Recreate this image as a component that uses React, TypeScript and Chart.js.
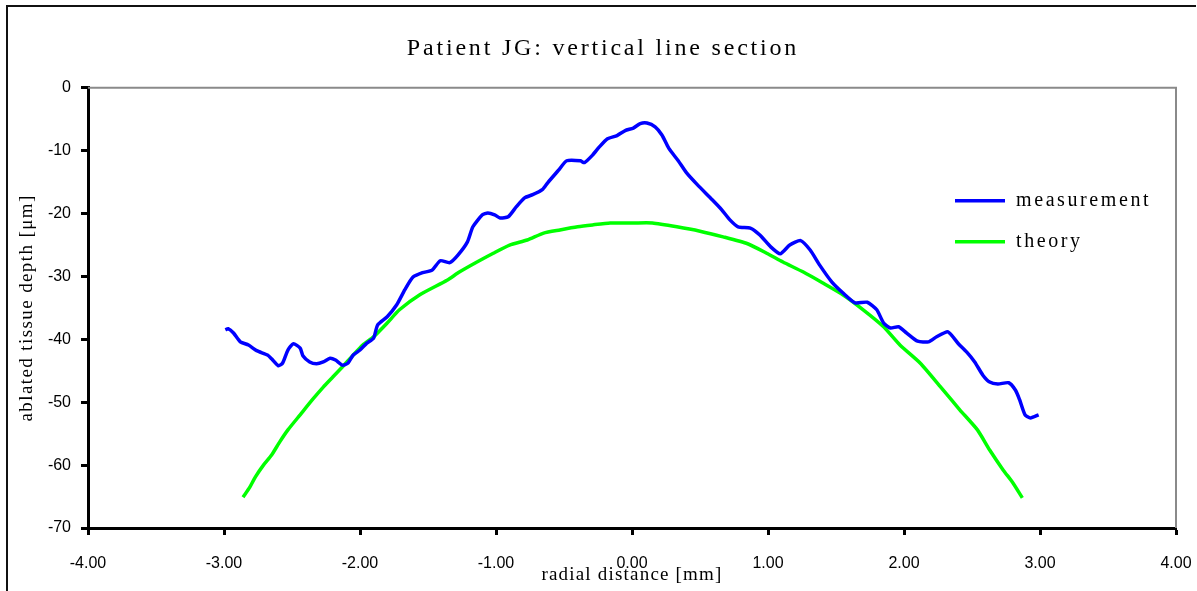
import React, { useEffect, useRef } from "react";
import { Chart, registerables } from "chart.js";

Chart.register(...registerables);

const chartTitle = "Patient JG: vertical line section";
const xAxisTitle = "radial distance [mm]";
const yAxisTitle = "ablated tissue depth [μm]";
const seriesNames = ["measurement", "theory"];

const measX = [
  -2.99, -2.97, -2.93, -2.88, -2.82, -2.76, -2.68, -2.65, -2.6, -2.57, -2.53, -2.49, -2.44, -2.42,
  -2.37, -2.32, -2.27, -2.22, -2.18, -2.13, -2.09, -2.05, -2.0, -1.95, -1.9, -1.87, -1.8, -1.73,
  -1.67, -1.61, -1.54, -1.47, -1.41, -1.34, -1.28, -1.21, -1.17, -1.1, -1.06, -1.01, -0.97, -0.91,
  -0.85, -0.79, -0.73, -0.66, -0.62, -0.54, -0.48, -0.38, -0.35, -0.29, -0.24, -0.18, -0.11, -0.05,
  0.01, 0.06, 0.11, 0.17, 0.22, 0.27, 0.34, 0.4, 0.48, 0.59, 0.66, 0.72, 0.78, 0.87, 0.94, 1.02,
  1.09, 1.16, 1.24, 1.31, 1.38, 1.47, 1.55, 1.64, 1.73, 1.8, 1.85, 1.9, 1.96, 2.02, 2.1, 2.18,
  2.24, 2.32, 2.36, 2.4, 2.46, 2.52, 2.58, 2.63, 2.69, 2.77, 2.82, 2.85, 2.89, 2.93, 2.99,
];
const measY = [
  -38.5, -38.3, -39.0, -40.4, -40.9, -41.8, -42.5, -43.1, -44.2, -43.8, -41.7, -40.7, -41.4, -42.6,
  -43.6, -43.9, -43.6, -43.0, -43.3, -44.1, -43.8, -42.5, -41.7, -40.6, -39.8, -37.7, -36.4, -34.5,
  -32.1, -30.1, -29.4, -29.0, -27.5, -27.8, -26.6, -24.5, -22.1, -20.2, -19.9, -20.2, -20.7, -20.5,
  -18.9, -17.5, -17.0, -16.2, -15.1, -13.1, -11.6, -11.6, -11.9, -10.7, -9.4, -8.1, -7.6, -6.8,
  -6.4, -5.7, -5.6, -6.2, -7.5, -9.6, -11.6, -13.5, -15.4, -17.8, -19.4, -21.0, -22.1, -22.3, -23.4, -25.3,
  -26.4, -25.0, -24.3, -25.8, -28.2, -30.9, -32.6, -34.2, -34.1, -35.3, -37.4, -38.2, -38.0, -39.0, -40.3, -40.4,
  -39.6, -38.8, -39.6, -40.7, -42.0, -43.6, -45.7, -46.8, -47.1, -46.9, -48.1, -49.6, -52.0, -52.5, -52.0,
];

const theoX = [
  -2.86, -2.81, -2.77, -2.71, -2.65, -2.59, -2.53, -2.44, -2.35, -2.27, -2.2, -2.13, -2.05, -1.98,
  -1.9, -1.8, -1.71, -1.56, -1.36, -1.27, -1.14, -1.02, -0.9, -0.77, -0.65, -0.53, -0.4, -0.29,
  -0.16, 0.01, 0.15, 0.33, 0.5, 0.67, 0.85, 0.99, 1.11, 1.26, 1.4, 1.55, 1.7, 1.85, 1.97, 2.12,
  2.27, 2.41, 2.54, 2.63, 2.73, 2.8, 2.87,
];
const theoY = [
  -65.1, -63.5, -61.9, -60.0, -58.4, -56.3, -54.4, -52.0, -49.6, -47.6, -46.0, -44.4, -42.5, -40.9,
  -39.6, -37.4, -35.3, -32.9, -30.6, -29.3, -27.7, -26.3, -25.0, -24.2, -23.1, -22.6, -22.1, -21.8,
  -21.5, -21.5, -21.5, -22.1, -22.8, -23.7, -24.8, -26.3, -27.7, -29.3, -31.0, -32.9, -35.3, -38.0, -40.9, -43.8,
  -47.6, -51.2, -54.4, -57.6, -60.8, -62.8, -65.2,
];

const xTickValues = [-4, -3, -2, -1, 0, 1, 2, 3, 4];
const yTickValues = [0, -10, -20, -30, -40, -50, -60, -70];
const seriesColors = ["#0000ff", "#00ff00"];

const serif = "'Liberation Serif', 'DejaVu Serif', serif";
const sans = "'Liberation Sans', 'DejaVu Sans', sans-serif";

function wrapSpacing(obj: any, key: string, spacing: string, dx = 0) {
  if (!obj || obj["__sp_" + key]) return;
  const orig = obj[key];
  obj[key] = function (...args: any[]) {
    const ctx = this.ctx as any;
    ctx.save();
    ctx.letterSpacing = spacing;
    if (dx) ctx.translate(dx, 0);
    const r = orig.apply(this, args);
    ctx.restore();
    return r;
  };
  obj["__sp_" + key] = true;
}

export default function App() {
  const ref = useRef<HTMLCanvasElement | null>(null);

  useEffect(() => {
    document.body.style.margin = "0";
    document.body.style.overflow = "hidden";
    const canvas = ref.current;
    if (!canvas) return;

    const spacingPlugin = {
      id: "spacing",
      afterLayout(chart: any) {
        wrapSpacing(chart.titleBlock, "draw", "2.8px", 10);
        wrapSpacing(chart.scales.x, "drawTitle", "1.2px");
        wrapSpacing(chart.scales.y, "drawTitle", "1.4px");
      },
    };

    const framePlugin = {
      id: "frame",
      beforeDatasetsDraw(chart: any) {
        const { ctx, chartArea } = chart;
        ctx.save();
        ctx.strokeStyle = "#8a8a8a";
        ctx.lineWidth = 2;
        ctx.beginPath();
        ctx.moveTo(chartArea.left, chartArea.top);
        ctx.lineTo(chartArea.right, chartArea.top);
        ctx.lineTo(chartArea.right, chartArea.bottom);
        ctx.stroke();
        ctx.restore();
      },
    };

    const legendPlugin = {
      id: "customLegend",
      afterDatasetsDraw(chart: any) {
        const { ctx, chartArea } = chart;
        ctx.save();
        const x0 = chartArea.right - 221;
        const y0 = chartArea.top + 113;
        chart.data.datasets.forEach((ds: any, i: number) => {
          const y = y0 + i * 41;
          ctx.strokeStyle = ds.borderColor;
          ctx.lineWidth = 3.5;
          ctx.beginPath();
          ctx.moveTo(x0, y);
          ctx.lineTo(x0 + 50, y);
          ctx.stroke();
          ctx.fillStyle = "#000";
          ctx.font = `20px ${serif}`;
          (ctx as any).letterSpacing = "2.6px";
          ctx.textBaseline = "middle";
          ctx.textAlign = "left";
          ctx.fillText(ds.label, x0 + 61, y);
          (ctx as any).letterSpacing = "0px";
        });
        ctx.restore();
      },
    };

    const chart = new Chart(canvas, {
      type: "line",
      data: {
        datasets: [
          {
            label: seriesNames[0],
            data: measX.map((x, i) => ({ x, y: measY[i] })),
            borderColor: seriesColors[0],
            backgroundColor: seriesColors[0],
            borderWidth: 3.5,
            pointRadius: 0,
            tension: 0.2,
          },
          {
            label: seriesNames[1],
            data: theoX.map((x, i) => ({ x, y: theoY[i] })),
            borderColor: seriesColors[1],
            backgroundColor: seriesColors[1],
            borderWidth: 3.5,
            pointRadius: 0,
            tension: 0.2,
          },
        ],
      },
      options: {
        animation: false,
        responsive: false,
        maintainAspectRatio: false,
        layout: { padding: { left: 10, right: 21, top: 0, bottom: 0 } },
        plugins: {
          legend: { display: false },
          tooltip: { enabled: false },
          title: {
            display: true,
            text: chartTitle,
            color: "#000",
            font: { family: serif, size: 24, weight: "normal" },
            padding: { top: 34, bottom: 25 },
          },
        },
        scales: {
          x: {
            type: "linear",
            min: -4,
            max: 4,
            afterBuildTicks: (scale: any) => {
              scale.ticks = xTickValues.map((v) => ({ value: v }));
            },
            afterFit: (scale: any) => {
              scale.height = 63;
              scale.paddingLeft = 0;
              scale.paddingRight = 0;
            },
            border: { display: true, color: "#000", width: 3 },
            grid: {
              display: true,
              drawOnChartArea: false,
              drawTicks: true,
              tickLength: 7,
              tickWidth: 3,
              tickColor: "#000",
            },
            ticks: {
              color: "#000",
              font: { family: sans, size: 16 },
              padding: 19,
              maxRotation: 0,
              autoSkip: false,
              callback: (v: any) => Number(v).toFixed(2),
            },
            title: {
              display: true,
              text: xAxisTitle,
              color: "#000",
              font: { family: serif, size: 19 },
              padding: { top: 0, bottom: 5 },
            },
          },
          y: {
            type: "linear",
            min: -70,
            max: 0,
            afterBuildTicks: (scale: any) => {
              scale.ticks = yTickValues.map((v) => ({ value: v }));
            },
            afterFit: (scale: any) => {
              scale.width = 78;
            },
            border: { display: true, color: "#000", width: 3 },
            grid: {
              display: true,
              drawOnChartArea: false,
              drawTicks: true,
              tickLength: 7,
              tickWidth: 3,
              tickColor: "#000",
            },
            ticks: {
              color: "#000",
              font: { family: sans, size: 16 },
              padding: 10,
              autoSkip: false,
              callback: (v: any) => String(v),
            },
            title: {
              display: true,
              text: yAxisTitle,
              color: "#000",
              font: { family: serif, size: 19 },
              padding: { top: 6, bottom: 0 },
            },
          },
        },
      },
      plugins: [spacingPlugin, framePlugin, legendPlugin],
    } as any);

    return () => chart.destroy();
  }, []);

  return (
    <div style={{ position: "relative", width: 1197, height: 591, overflow: "hidden", background: "#fff" }}>
      <canvas ref={ref} width={1197} height={591} style={{ position: "absolute", left: 0, top: 0 }} />
      <div
        style={{
          position: "absolute",
          left: 6,
          top: 5,
          width: 1188,
          height: 600,
          borderLeft: "2px solid #111",
          borderTop: "2px solid #111",
          pointerEvents: "none",
        }}
      />
    </div>
  );
}
